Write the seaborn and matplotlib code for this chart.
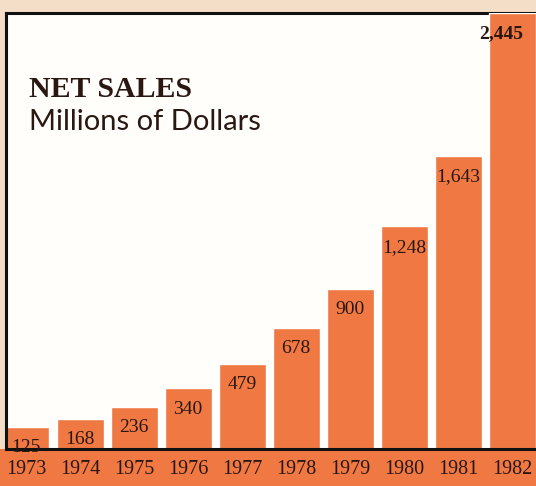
import matplotlib
matplotlib.use("Agg")
import matplotlib.pyplot as plt
from matplotlib.patches import Rectangle
import seaborn as sns
import pandas as pd

years = ["1973", "1974", "1975", "1976", "1977", "1978", "1979", "1980", "1981", "1982"]
net_sales = [125, 168, 236, 340, 479, 678, 900, 1248, 1643, 2445]
title = "NET SALES"
subtitle = "Millions of Dollars"

ORANGE = "#f07842"
PEACH = "#f5dec7"
PANEL = "#fffefb"
INK = "#2a1712"

sns.set_theme(style="white")
plt.rcParams["font.family"] = ["Liberation Serif", "DejaVu Serif"]

df = pd.DataFrame({"year": years, "sales": net_sales})

fig = plt.figure(figsize=(5.36, 4.86), dpi=100, facecolor=PEACH)
# orange band behind the year labels
fig.add_artist(Rectangle((0, 0), 1, 0.076, transform=fig.transFigure,
                         facecolor=ORANGE, edgecolor="none", zorder=0))

ax = fig.add_axes([0.0112, 0.0761, 0.9888, 0.8972])
ax.set_facecolor(PANEL)

sns.barplot(data=df, x="year", y="sales", color=ORANGE, saturation=1,
            width=0.87, ax=ax, zorder=3)

ax.set_xlim(-0.37, 9.44)
ax.set_ylim(0, max(net_sales))
ax.set_xlabel("")
ax.set_ylabel("")
ax.set_yticks([])
ax.tick_params(axis="x", length=0, pad=8, labelsize=14.5, labelcolor=INK)

for side in ["left", "top", "bottom"]:
    ax.spines[side].set_visible(True)
    ax.spines[side].set_color("#111111")
    ax.spines[side].set_linewidth(2.2)
ax.spines["right"].set_visible(False)
ax.spines["top"].set_zorder(1)
ax.spines["bottom"].set_zorder(5)
ax.spines["left"].set_zorder(5)

for i, (patch, val) in enumerate(zip(ax.patches, net_sales)):
    cx = patch.get_x() + patch.get_width() / 2
    last = i == len(net_sales) - 1
    ax.annotate(f"{val:,}", (cx, val), xytext=(-8 if last else 0, -15),
                textcoords="offset points", ha="center", va="center",
                fontsize=14, color=INK, fontweight="bold" if last else "normal",
                zorder=6, annotation_clip=False)

fig.text(0.054, 0.8004, title, fontsize=21.5, fontweight="bold", color=INK,
         ha="left", va="baseline")
fig.text(0.054, 0.7325, subtitle, fontsize=21, color=INK, ha="left",
         va="baseline", family=["Lato", "DejaVu Sans"])

fig.savefig("out.png", dpi=100, facecolor=PEACH)
